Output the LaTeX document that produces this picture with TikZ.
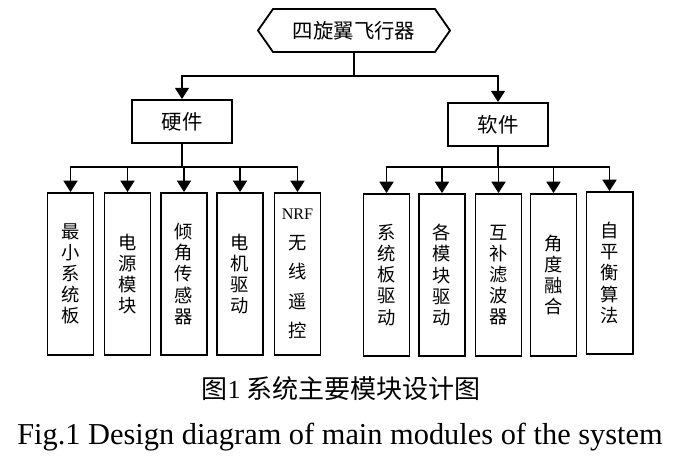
\documentclass[tikz,border=0pt]{standalone}
\usepackage{fontspec}
\setmainfont{Liberation Serif}
\newfontfamily\cjk{Noto Sans CJK SC}
\usetikzlibrary{arrows.meta,shapes.symbols}
\begin{document}
\begin{tikzpicture}[x=0.025cm,y=-0.025cm,
  topbox/.style={draw,line width=1.3pt,signal,signal to=west and east,signal pointer angle=110,minimum width=4.8cm,minimum height=1.075cm,inner sep=0pt,font=\cjk\fontsize{14.5}{16}\selectfont},
  partbox/.style={draw,line width=1.4pt,minimum width=2.5cm,minimum height=1.075cm,inner sep=0pt,font=\cjk\fontsize{14.5}{16}\selectfont},
  modbox/.style={draw,line width=1.4pt,minimum width=1.15cm,minimum height=4.05cm,inner sep=0pt,align=center,font=\cjk\fontsize{13}{15}\selectfont},
  link/.style={line width=1pt,-{Triangle[width=10pt,length=8pt]}}]
\useasboundingbox (0,0) rectangle (676,460);

\node[topbox] (uav) at (354,30.5) {四旋翼飞行器};
\node[partbox] (hw) at (182,121.5) {硬件};
\node[partbox] (sw) at (498,124.5) {软件};

% hardware modules
\node[modbox] (h1) at (70.5,274) {最\\小\\系\\统\\板};
\node[modbox] (h2) at (127.5,274) {电\\源\\模\\块};
\node[modbox] (h3) at (184,274) {倾\\角\\传\\感\\器};
\node[modbox] (h4) at (240,274) {电\\机\\驱\\动};
\node[modbox,font=\cjk\fontsize{13}{21}\selectfont] (h5) at (297.5,274) {{\rmfamily\fontsize{11.5}{21}\selectfont NRF}\\无\\线\\遥\\控};

% software modules
\node[modbox] (s1) at (386.5,275) {系\\统\\板\\驱\\动};
\node[modbox] (s2) at (442,275) {各\\模\\块\\驱\\动};
\node[modbox] (s3) at (498.5,275) {互\\补\\滤\\波\\器};
\node[modbox] (s4) at (553.5,275) {角\\度\\融\\合};
\node[modbox] (s5) at (609.5,273) {自\\平\\衡\\算\\法};

\path[draw,line width=1pt] (uav.south) -- ++(0,23) coordinate (top);
\path[draw,link] (top) -| (hw.north);
\path[draw,link] (top) -| (sw.north);

\path[draw,line width=1pt] (hw.south) -- (182,167) coordinate (hwbus);
\foreach \m in {h1,h2,h3,h4,h5}
  \path[draw,link] (hwbus) -| (\m.north);

\path[draw,line width=1pt] (sw.south) -- (498,167) coordinate (swbus);
\foreach \m in {s1,s2,s3,s4,s5}
  \path[draw,link] (swbus) -| (\m.north);

\node[font=\cjk\fontsize{18.5}{20}\selectfont] (cn) at (341,389) {图{\rmfamily 1} 系统主要模块设计图};
\node[font=\fontsize{21.6}{24}\selectfont] (en) at (340,437) {Fig.1 Design diagram of main modules of the system};
\end{tikzpicture}
\end{document}
